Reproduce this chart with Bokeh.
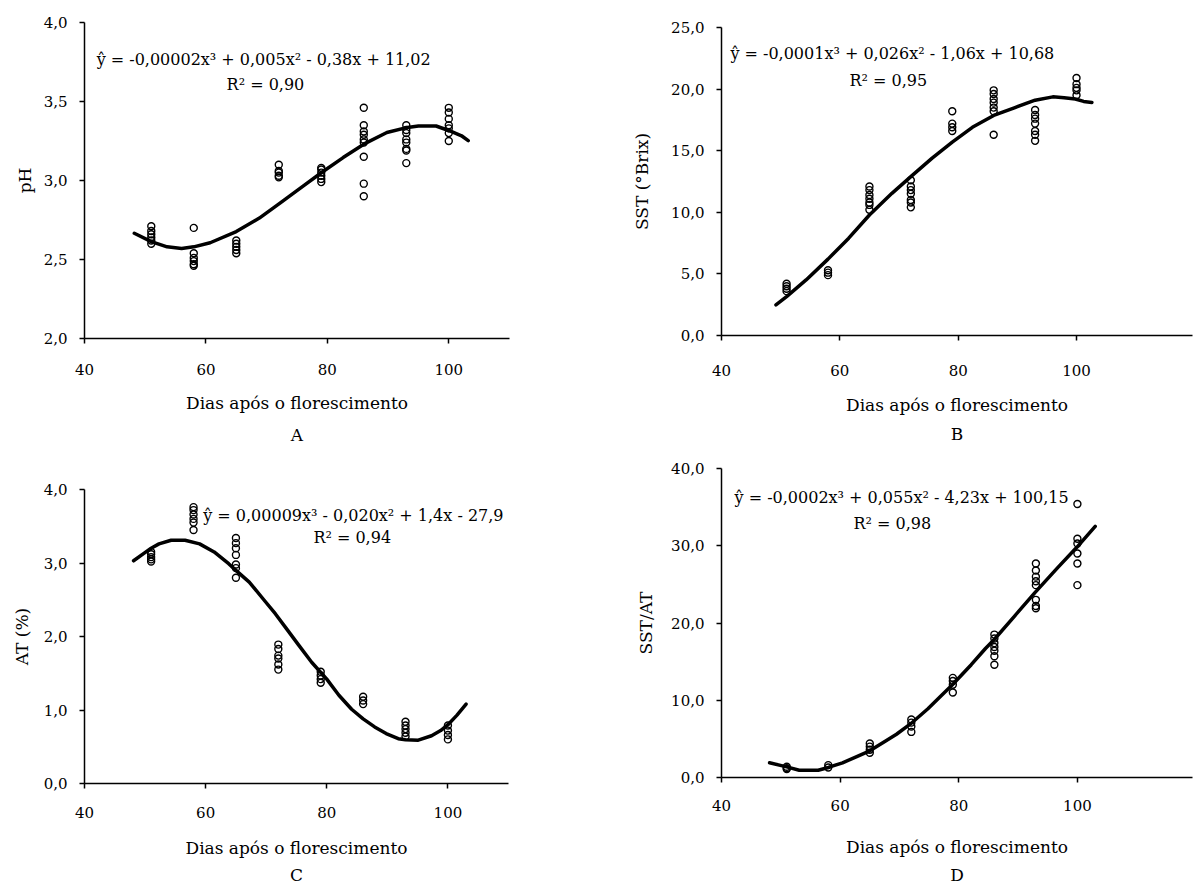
from bokeh.plotting import figure
from bokeh.models import Range1d, FixedTicker, CustomJSTickFormatter, Label, Title
from bokeh.layouts import row, column
from bokeh.embed import file_html
from bokeh.resources import INLINE

FONT = "DejaVu Serif"

# ---------------- data ----------------
days = [51, 58, 65, 72, 79, 86, 93, 100]

# A: pH (observations per sampling day)
ph_obs = [
    [2.71, 2.68, 2.66, 2.64, 2.62, 2.60],
    [2.70, 2.54, 2.51, 2.49, 2.47, 2.46],
    [2.62, 2.60, 2.58, 2.56, 2.54],
    [3.10, 3.06, 3.05, 3.03, 3.02],
    [3.08, 3.07, 3.05, 3.03, 3.01, 2.99],
    [3.46, 3.35, 3.31, 3.29, 3.26, 3.24, 3.15, 2.98, 2.90],
    [3.35, 3.32, 3.30, 3.26, 3.24, 3.20, 3.19, 3.11],
    [3.46, 3.43, 3.39, 3.35, 3.33, 3.30, 3.25],
]
ph_fit_x = [48.2, 51, 53.6, 56, 58, 60.7, 65, 68.8, 72.2, 76, 79, 82.6, 86, 89.8, 93.2, 95, 97.9, 100.1, 102.1, 103.2]
ph_fit_y = [2.666, 2.613, 2.58, 2.57, 2.58, 2.606, 2.677, 2.762, 2.857, 2.964, 3.049, 3.145, 3.23, 3.304, 3.336, 3.345, 3.345, 3.315, 3.283, 3.252]

# B: SST (°Brix)
sst_obs = [
    [4.2, 4.0, 3.8, 3.6],
    [5.3, 5.1, 4.9],
    [12.1, 11.8, 11.4, 11.1, 10.8, 10.6, 10.2],
    [12.6, 12.1, 11.8, 11.5, 11.0, 10.8, 10.4],
    [18.2, 17.2, 16.9, 16.6],
    [19.9, 19.6, 19.2, 18.9, 18.5, 18.2, 16.3],
    [18.3, 17.9, 17.6, 17.2, 16.6, 16.3, 15.8],
    [20.9, 20.4, 20.1, 19.9, 19.5],
]
sst_fit_x = [49.2, 51, 54.3, 58, 61.5, 65, 68.8, 72, 75.6, 79, 82.4, 86, 89.6, 93, 96, 97.9, 99.8, 101.2, 102.6]
sst_fit_y = [2.49, 3.16, 4.51, 6.2, 7.9, 9.78, 11.54, 12.9, 14.4, 15.7, 16.9, 17.86, 18.5, 19.1, 19.37, 19.3, 19.2, 19.0, 18.92]

# C: AT (%)
at_obs = [
    [3.15, 3.12, 3.08, 3.05, 3.02],
    [3.76, 3.72, 3.66, 3.60, 3.55, 3.45],
    [3.34, 3.27, 3.20, 3.11, 2.98, 2.93, 2.80],
    [1.89, 1.83, 1.74, 1.70, 1.62, 1.55],
    [1.52, 1.47, 1.42, 1.37],
    [1.18, 1.13, 1.08],
    [0.84, 0.79, 0.74, 0.69, 0.64],
    [0.79, 0.72, 0.66, 0.60],
]
at_fit_x = [48.1, 49.8, 51, 52.3, 54.3, 56.6, 59, 61.4, 63.8, 65, 67.2, 69.6, 71.5, 73.4, 75.3, 77.5, 80, 82, 84.1, 86, 87.9, 89.8, 91.8, 93, 95.1, 97.3, 98.8, 100, 101.5, 103]
at_fit_y = [3.03, 3.13, 3.20, 3.26, 3.31, 3.31, 3.26, 3.15, 2.99, 2.90, 2.74, 2.50, 2.31, 2.10, 1.89, 1.65, 1.42, 1.20, 1.01, 0.88, 0.77, 0.68, 0.61, 0.595, 0.59, 0.65, 0.72, 0.80, 0.93, 1.08]

# D: SST/AT
ratio_obs = [
    [1.4, 1.2, 1.1],
    [1.6, 1.3],
    [4.4, 4.0, 3.6, 3.2],
    [7.5, 7.1, 6.6, 5.9],
    [12.9, 12.5, 12.0, 11.0],
    [18.5, 18.0, 17.4, 16.9, 16.4, 15.7, 14.6],
    [27.7, 26.8, 26.0, 25.4, 24.9, 23.0, 22.2, 21.9],
    [35.4, 30.9, 30.3, 29.0, 27.7, 24.9],
]
ratio_fit_x = [48.1, 51, 53.1, 56.3, 58, 60.4, 62.8, 65, 67.6, 69.5, 71.8, 74.8, 77.2, 78.8, 82.1, 84.5, 85.9, 89.3, 92.8, 96.6, 99.9, 103]
ratio_fit_y = [1.9, 1.37, 0.94, 0.94, 1.3, 1.9, 2.7, 3.45, 4.7, 5.6, 6.9, 8.9, 10.7, 11.9, 14.6, 16.7, 17.8, 20.8, 23.9, 27.1, 29.8, 32.5]

x_ticks = [40, 60, 80, 100]
x_title = "Dias após o florescimento"


def flatten(obs):
    xs, ys = [], []
    for d, vals in zip(days, obs):
        for v in vals:
            xs.append(d)
            ys.append(v)
    return xs, ys


def panel(obs, fx, fy, xmax, ymin, ymax, yticks, ylabel, eq, eq_pos, r2, r2_pos, letter,
          borders, frame, ylab_standoff, xlab_standoff, xtick_standoff, ytick_standoff, title_standoff):
    bl, br, bt, bb = borders
    fw, fh = frame
    p = figure(frame_width=fw, frame_height=fh, min_border_left=bl, min_border_right=br,
               min_border_top=bt, min_border_bottom=bb, output_backend="svg",
               toolbar_location=None, x_range=Range1d(40, xmax), y_range=Range1d(ymin, ymax))
    p.outline_line_color = None
    p.grid.visible = False
    p.background_fill_color = "white"
    p.border_fill_color = "white"

    for ax in (p.xaxis[0], p.yaxis[0]):
        ax.axis_line_color = "black"
        ax.axis_line_width = 1.5
        ax.major_tick_line_color = "black"
        ax.major_tick_line_width = 1.5
        ax.major_tick_in = 0
        ax.major_tick_out = 5
        ax.minor_tick_line_color = None
        ax.major_label_text_font = FONT
        ax.major_label_text_font_size = "15px"
        ax.major_label_text_color = "black"
        ax.axis_label_text_font = FONT
        ax.axis_label_text_font_size = "17px"
        ax.axis_label_text_font_style = "normal"
        ax.axis_label_text_color = "black"

    p.xaxis.ticker = FixedTicker(ticks=x_ticks)
    p.yaxis.ticker = FixedTicker(ticks=yticks)
    p.yaxis.formatter = CustomJSTickFormatter(code="return tick.toFixed(1).replace('.', ',');")
    p.xaxis.axis_label = x_title
    p.yaxis.axis_label = ylabel
    p.yaxis.axis_label_standoff = ylab_standoff
    p.xaxis.axis_label_standoff = xlab_standoff
    p.xaxis.major_label_standoff = xtick_standoff
    p.yaxis.major_label_standoff = ytick_standoff

    p.line(fx, fy, line_color="black", line_width=3.5, line_join="round", line_cap="round")
    xs, ys = flatten(obs)
    p.scatter(xs, ys, marker="circle", size=7, fill_color="white", fill_alpha=0.0,
              line_color="black", line_width=1.4)

    p.add_layout(Label(x=eq_pos[0], y=eq_pos[1], text=eq, text_font=FONT,
                       text_font_size="16px", text_baseline="middle", text_align="left",
                       text_color="black"))
    p.add_layout(Label(x=r2_pos[0], y=r2_pos[1], text=r2, text_font=FONT,
                       text_font_size="16px", text_baseline="middle", text_align="center",
                       text_color="black"))
    t = Title(text=letter, align="center", text_font=FONT, text_font_size="17px",
              text_font_style="normal", text_color="black", standoff=title_standoff)
    p.add_layout(t, "below")
    return p


pA = panel(ph_obs, ph_fit_x, ph_fit_y, 110, 2.0, 4.0, [2.0, 2.5, 3.0, 3.5, 4.0], "pH",
           "ŷ = -0,00002x³ + 0,005x² - 0,38x + 11,02", (42, 3.766), "R² = 0,90", (69.8, 3.61), "A",
           (83, 92, 22, 107), (425, 316), 6, 15, 20, 12, 14)

pB = panel(sst_obs, sst_fit_x, sst_fit_y, 119.6, 0.0, 25.0, [0, 5, 10, 15, 20, 25], "SST (°Brix)",
           "ŷ = -0,0001x³ + 0,026x² - 1,06x + 10,68", (41.5, 22.89), "R² = 0,95", (68.2, 20.7), "B",
           (121, 3, 27, 110), (471, 308), 16, 16, 24, 12, 8)

pC = panel(at_obs, at_fit_x, at_fit_y, 110, 0.0, 4.0, [0, 1, 2, 3, 4], "AT (%)",
           "ŷ  = 0,00009x³ - 0,020x² + 1,4x - 27,9", (59.6, 3.65), "R² = 0,94", (84.2, 3.35), "C",
           (84, 92, 38, 100), (424, 294), 9, 17, 18, 12, 5)

pD = panel(ratio_obs, ratio_fit_x, ratio_fit_y, 119.4, 0.0, 40.0, [0, 10, 20, 30, 40], "SST/AT",
           "ŷ = -0,0002x³ + 0,055x² - 4,23x + 100,15", (42.2, 36.25), "R² = 0,98", (68.8, 32.9), "D",
           (121, 3, 21, 100), (471, 309), 12, 23, 17, 12, 7)

layout = row(column(pA, pC), column(pB, pD))

html = file_html(layout, INLINE, title="Chart")
with open("out.html", "w") as f:
    f.write(html)
